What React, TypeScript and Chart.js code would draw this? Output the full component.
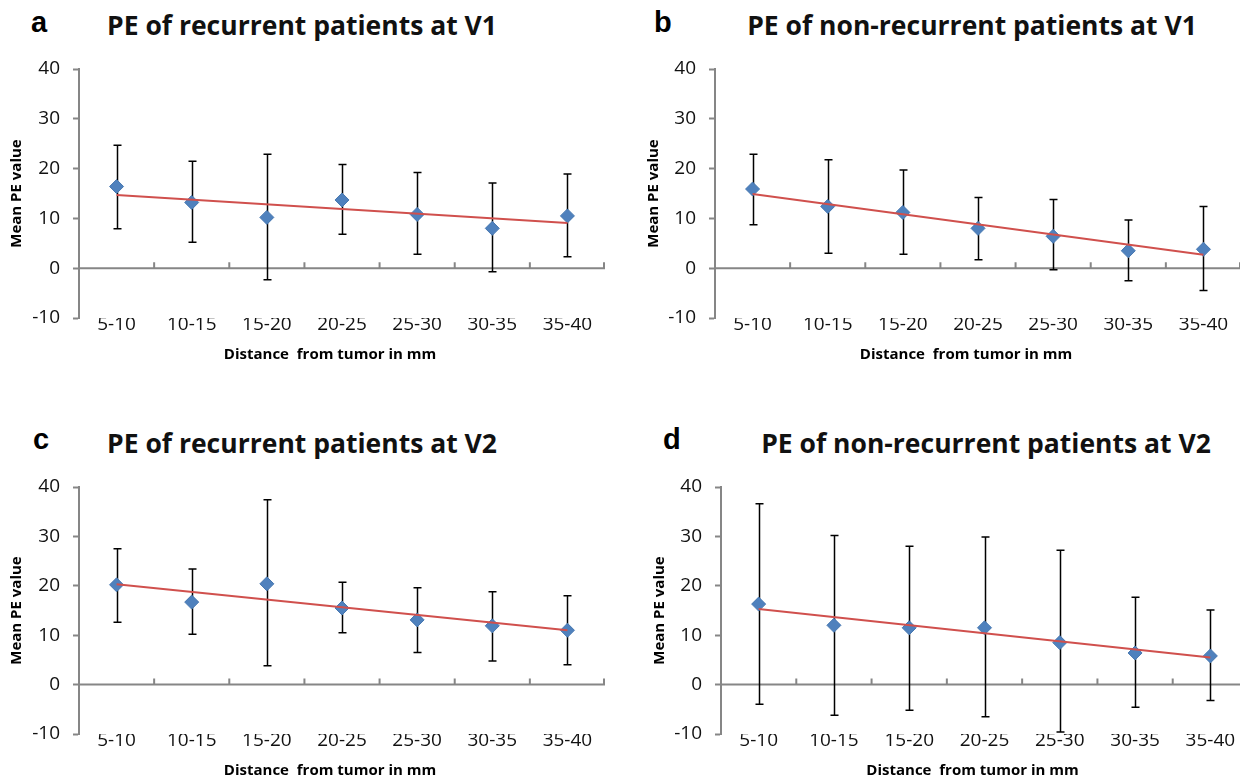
import React, { useEffect, useRef } from "react";
import { Chart, registerables } from "chart.js";

Chart.register(...registerables);

// ---------- data ----------
const categories = ["5-10", "10-15", "15-20", "20-25", "25-30", "30-35", "35-40"];
const yMin = -10;
const yMax = 40;
const yStep = 10;
const xAxisTitle = "Distance  from tumor in mm";
const yAxisTitle = "Mean PE value";

// a: recurrent V1
const meanA = [16.4, 13.2, 10.2, 13.7, 10.8, 8.0, 10.5];
const highA = [24.7, 21.5, 22.9, 20.8, 19.2, 17.1, 18.9];
const lowA = [7.9, 5.2, -2.3, 6.8, 2.8, -0.7, 2.3];
const trendA = [14.7, 9.1];

// b: non-recurrent V1
const meanB = [15.9, 12.4, 11.2, 8.0, 6.4, 3.5, 3.8];
const highB = [22.9, 21.8, 19.7, 14.2, 13.8, 9.7, 12.4];
const lowB = [8.7, 3.0, 2.8, 1.7, -0.3, -2.5, -4.5];
const trendB = [14.9, 2.7];

// c: recurrent V2
const meanC = [20.2, 16.7, 20.4, 15.5, 13.1, 11.9, 11.0];
const highC = [27.5, 23.4, 37.4, 20.7, 19.6, 18.8, 18.0];
const lowC = [12.6, 10.2, 3.8, 10.5, 6.5, 4.8, 4.0];
const trendC = [20.3, 11.0];

// d: non-recurrent V2
const meanD = [16.3, 12.0, 11.5, 11.5, 8.5, 6.4, 5.8];
const highD = [36.6, 30.2, 28.0, 29.9, 27.2, 17.7, 15.1];
const lowD = [-4.0, -6.2, -5.2, -6.5, -9.6, -4.6, -3.2];
const trendD = [15.3, 5.5];

const letters = ["a", "b", "c", "d"];
const titles = [
  "PE of recurrent patients at V1",
  "PE of non-recurrent patients at V1",
  "PE of recurrent patients at V2",
  "PE of non-recurrent patients at V2",
];

// ---------- styles ----------
const FONT = "'Open Sans', 'DejaVu Sans', sans-serif";
const AXIS = "#868686";
const BLUE = "#4F81BD";
const RED = "#D0504D";
const TEXT = "#111111";

const decorPlugin = {
  id: "decor",
  beforeDatasetsDraw(chart: any, _args: any, opts: any) {
    const { ctx, chartArea, scales } = chart;
    const x = scales.x;
    const y = scales.y;
    const y0 = y.getPixelForValue(0);
    ctx.save();
    ctx.strokeStyle = AXIS;
    ctx.lineWidth = 2;
    ctx.beginPath();
    ctx.moveTo(chartArea.left, y0);
    ctx.lineTo(chartArea.right, y0);
    const n = x.ticks.length;
    for (let i = 1; i <= n; i++) {
      const bx = i < n ? (x.getPixelForTick(i - 1) + x.getPixelForTick(i)) / 2 : chartArea.right - 1;
      ctx.moveTo(bx, y0);
      ctx.lineTo(bx, y0 - 6);
    }
    ctx.stroke();

    ctx.strokeStyle = "#000000";
    ctx.lineWidth = 1.5;
    ctx.beginPath();
    const high: number[] = opts.high || [];
    const low: number[] = opts.low || [];
    high.forEach((h: number, i: number) => {
      const px = Math.round(x.getPixelForValue(i)) + 0.5;
      const yh = y.getPixelForValue(h);
      const yl = y.getPixelForValue(low[i]);
      ctx.moveTo(px, yh);
      ctx.lineTo(px, yl);
      ctx.moveTo(px - 4, yh);
      ctx.lineTo(px + 4, yh);
      ctx.moveTo(px - 4, yl);
      ctx.lineTo(px + 4, yl);
    });
    ctx.stroke();
    ctx.restore();
  },
  afterDraw(chart: any, _args: any, opts: any) {
    const { ctx, chartArea } = chart;
    ctx.save();
    ctx.font = `bold 15px ${FONT}`;
    ctx.fillStyle = "#000000";
    ctx.textAlign = "center";
    ctx.textBaseline = "middle";
    ctx.fillText(opts.xTitle, (chartArea.left + chartArea.right) / 2 - 12, chartArea.bottom + 36.5);
    ctx.restore();
  },
};

type PanelCfg = {
  idx: number;
  mean: number[];
  high: number[];
  low: number[];
  trend: number[];
  left: number;
  top: number;
  width: number;
  height: number;
  plotLeft: number;
  plotTop: number;
  plotRight: number;
  plotBottom: number;
  yTitleX: number;
  titleCx: number;
  titleCy: number;
  letterX: number;
  letterBase: number;
};

function Panel(p: PanelCfg) {
  const ref = useRef<HTMLCanvasElement | null>(null);
  useEffect(() => {
    if (!ref.current) return;
    const yTitleSize = 15;
    const chart = new Chart(ref.current, {
      type: "line",
      data: {
        labels: categories,
        datasets: [
          {
            label: "trend",
            data: [
              { x: categories[0], y: p.trend[0] },
              { x: categories[categories.length - 1], y: p.trend[1] },
            ] as any,
            borderColor: RED,
            borderWidth: 2,
            pointRadius: 0,
            fill: false,
            order: 0,
          },
          {
            label: "mean",
            data: p.mean,
            showLine: false,
            pointStyle: "rectRot",
            pointRadius: 7,
            pointBackgroundColor: BLUE,
            pointBorderColor: "#4677B0",
            pointBorderWidth: 1,
            order: 1,
          },
        ],
      },
      options: {
        animation: false,
        responsive: false,
        maintainAspectRatio: false,
        events: [],
        layout: {
          padding: {
            left: 0,
            top: p.plotTop,
            right: p.width - p.plotRight,
            bottom: 0,
          },
        },
        plugins: {
          legend: { display: false },
          tooltip: { enabled: false },
          title: { display: false },
          decor: { high: p.high, low: p.low, xTitle: xAxisTitle },
        } as any,
        scales: {
          x: {
            type: "category",
            offset: true,
            position: "bottom",
            grid: { display: false, drawTicks: false },
            border: { display: false },
            ticks: {
              autoSkip: false,
              maxRotation: 0,
              minRotation: 0,
              padding: -3,
              color: TEXT,
              font: { family: FONT, size: 19, lineHeight: 1 },
            },
            afterFit: (scale: any) => {
              scale.height = p.height - p.plotBottom;
            },
          },
          y: {
            type: "linear",
            min: yMin,
            max: yMax,
            position: "left",
            grid: {
              display: true,
              drawOnChartArea: false,
              drawTicks: true,
              tickLength: 6,
              color: AXIS,
              tickColor: AXIS,
              tickWidth: 2,
            },
            border: { display: true, color: AXIS, width: 2 },
            ticks: {
              stepSize: yStep,
              padding: 13,
              color: TEXT,
              font: { family: FONT, size: 19, lineHeight: 1 },
            },
            title: {
              display: true,
              text: yAxisTitle,
              color: "#000000",
              font: { family: FONT, size: yTitleSize, weight: "bold", lineHeight: 1 },
              padding: { top: p.yTitleX - yTitleSize / 2, bottom: 0 },
            },
            afterFit: (scale: any) => {
              scale.width = p.plotLeft;
            },
          },
        },
      },
      plugins: [decorPlugin as any],
    });
    return () => chart.destroy();
  }, []);

  const titleSize = 26.5;
  const letterSize = 29;
  return (
    <>
      <div
        style={{
          position: "absolute",
          left: p.letterX,
          top: p.letterBase - 0.8465 * letterSize,
          font: `bold ${letterSize}px 'Liberation Sans', Arial, sans-serif`,
          lineHeight: `${letterSize}px`,
          color: "#000",
          whiteSpace: "nowrap",
        }}
      >
        {letters[p.idx]}
      </div>
      <div
        style={{
          position: "absolute",
          left: p.titleCx - 300,
          width: 600,
          top: p.titleCy - 0.531 * titleSize,
          textAlign: "center",
          font: `bold ${titleSize}px ${FONT}`,
          lineHeight: `${titleSize}px`,
          color: "#111",
          whiteSpace: "nowrap",
        }}
      >
        {titles[p.idx]}
      </div>
      <canvas
        ref={ref}
        width={p.width}
        height={p.height}
        style={{ position: "absolute", left: p.left, top: p.top, width: p.width, height: p.height }}
      />
    </>
  );
}

export default function App() {
  const panels: PanelCfg[] = [
    {
      idx: 0, mean: meanA, high: highA, low: lowA, trend: trendA,
      left: 0, top: 0, width: 620, height: 380,
      plotLeft: 79, plotTop: 69, plotRight: 605, plotBottom: 318,
      yTitleX: 17, titleCx: 302, titleCy: 26.5, letterX: 31, letterBase: 33,
    },
    {
      idx: 1, mean: meanB, high: highB, low: lowB, trend: trendB,
      left: 620, top: 0, width: 640, height: 380,
      plotLeft: 95, plotTop: 69, plotRight: 621, plotBottom: 318,
      yTitleX: 34, titleCx: 972, titleCy: 26.5, letterX: 654, letterBase: 33,
    },
    {
      idx: 2, mean: meanC, high: highC, low: lowC, trend: trendC,
      left: 0, top: 400, width: 620, height: 380,
      plotLeft: 79, plotTop: 87, plotRight: 605, plotBottom: 334,
      yTitleX: 17, titleCx: 302, titleCy: 444, letterX: 33, letterBase: 450,
    },
    {
      idx: 3, mean: meanD, high: highD, low: lowD, trend: trendD,
      left: 620, top: 400, width: 640, height: 380,
      plotLeft: 101, plotTop: 87, plotRight: 628, plotBottom: 334,
      yTitleX: 40, titleCx: 986, titleCy: 444, letterX: 663, letterBase: 450,
    },
  ];
  return (
    <div
      style={{
        position: "absolute",
        left: 0,
        top: 0,
        width: 1240,
        height: 780,
        overflow: "hidden",
        background: "#ffffff",
      }}
    >
      {panels.map((p) => (
        <Panel key={p.idx} {...p} />
      ))}
    </div>
  );
}
